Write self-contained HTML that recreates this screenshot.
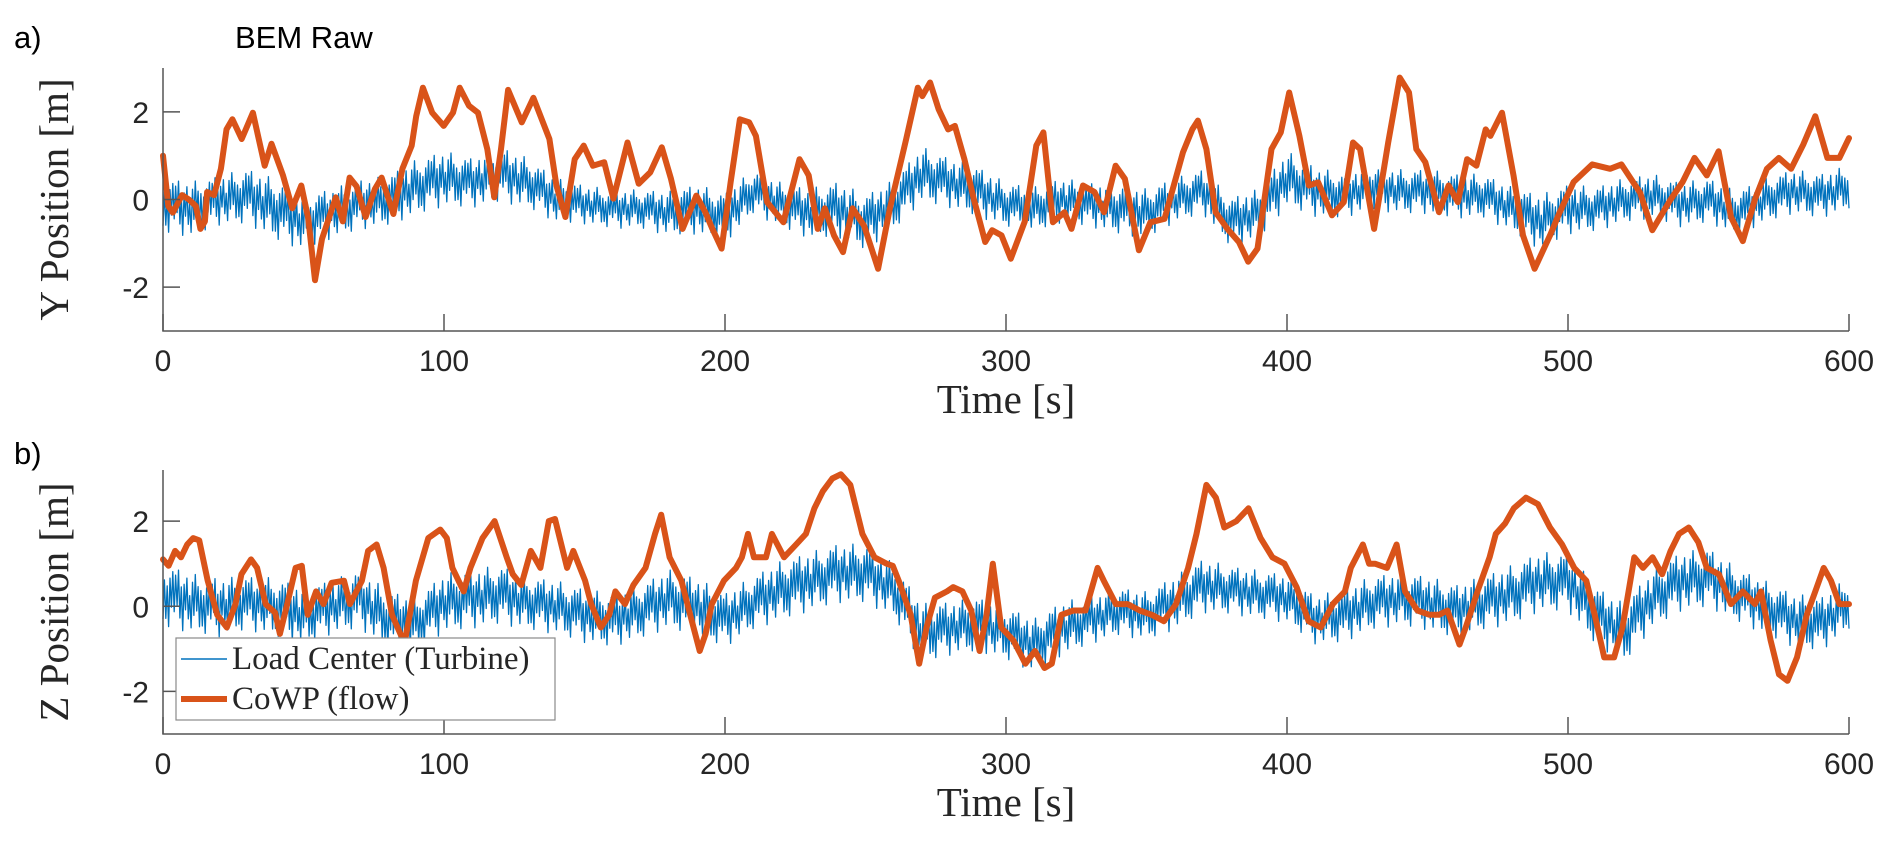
<!DOCTYPE html>
<html><head><meta charset="utf-8">
<style>
html,body{margin:0;padding:0;background:#fff;}
svg{display:block;}
.tick{font-family:"Liberation Sans",sans-serif;font-size:30px;fill:#262626;}
.lab{font-family:"Liberation Serif",serif;font-size:41px;fill:#262626;}
.leg{font-family:"Liberation Serif",serif;font-size:33px;fill:#262626;}
.ttl{font-family:"Liberation Sans",sans-serif;font-size:31px;fill:#000;}
</style></head>
<body>
<svg id="chart" width="1892" height="847" viewBox="0 0 1892 847" xmlns="http://www.w3.org/2000/svg">
<text x="14" y="48" class="ttl">a)</text>
<text x="235" y="48" class="ttl">BEM Raw</text>
<text x="14" y="464" class="ttl">b)</text>
<g id="pa"></g>
<g id="pb"></g>
<g>
<rect x="176" y="638" width="379" height="82" fill="#fff" stroke="#8a8a8a" stroke-width="1.2"/>
<line x1="181" y1="659" x2="227" y2="659" stroke="#0072BD" stroke-width="1.5"/>
<text x="232" y="669" class="leg">Load Center (Turbine)</text>
<line x1="181" y1="699" x2="227" y2="699" stroke="#D95319" stroke-width="6"/>
<text x="232" y="709" class="leg">CoWP (flow)</text>
</g>
</svg>
<script>
const xTicks=[0,100,200,300,400,500,600];
const yTicks=[-2,0,2];
const aOrT=[0,1.9,3.5,6.8,9.2,11.7,13.3,14.9,15.7,18.2,20.6,22.6,24.7,28,32,36.2,38.6,42.7,46,49.2,51.7,54.1,56.6,61.5,64,66.4,68.9,72.1,75.4,77.8,82,85.2,88.5,90.1,92.5,95.8,99.9,103.2,105.6,108.9,112.1,115.4,117.9,120.3,122.8,127.7,131.8,137.5,140,143.2,146.5,149.7,153,157,160.3,165.3,169.3,173.4,177.5,180.8,184.9,189.8,193,195.5,198.8,202,205.3,208.6,211,215,220.8,226.5,229.8,233,235.5,238.8,242,245.4,249.5,254.5,258.7,264.5,268.6,270.2,273,276,279.4,281.8,285.2,288.5,292.6,295.1,298.4,301.7,306.7,310.8,313.3,316.7,320.8,323.3,327.4,331.5,334.9,339,342.3,347.3,351.4,356.4,363,366.3,368.3,371.3,374.6,378.8,382.9,386.2,389.5,394.5,397.8,400.8,404.4,407.8,411.1,416,420.2,423.5,426,431,436,440.1,443.4,446,449.2,454.1,457.5,460.8,464.1,467.4,470.7,472.4,476.5,480.6,484,488.1,493.6,497,502,508.6,515,519,525.7,530,536.5,540.8,545,549.4,553.6,558,562.2,566.5,570.8,575,579.4,583.7,588,592.3,596.6,600];
const aOrV=[1.0,-0.15,-0.3,0.1,0,-0.15,-0.67,-0.5,0.17,0.1,0.7,1.6,1.83,1.38,1.98,0.77,1.27,0.55,-0.2,0.32,-0.44,-1.84,-0.9,0.05,-0.5,0.5,0.3,-0.4,0.24,0.5,-0.33,0.7,1.23,1.9,2.55,1.98,1.68,1.98,2.55,2.14,1.98,1.15,0.05,1.15,2.5,1.76,2.32,1.38,0.32,-0.4,0.92,1.23,0.77,0.85,0.02,1.3,0.36,0.62,1.19,0.47,-0.67,0.09,-0.29,-0.67,-1.12,0.39,1.83,1.76,1.45,-0.06,-0.52,0.92,0.55,-0.67,-0.2,-0.82,-1.2,-0.2,-0.6,-1.58,-0.2,1.38,2.55,2.36,2.67,2.06,1.6,1.68,0.92,0.02,-0.97,-0.7,-0.82,-1.35,-0.5,1.23,1.53,-0.52,-0.29,-0.67,0.32,0.17,-0.29,0.77,0.47,-1.16,-0.52,-0.44,1.08,1.6,1.8,1.15,-0.29,-0.67,-0.97,-1.42,-1.12,1.15,1.53,2.44,1.45,0.32,0.39,-0.36,-0.06,1.3,1.15,-0.67,1.3,2.78,2.44,1.15,0.85,-0.29,0.32,-0.06,0.92,0.77,1.6,1.45,1.98,0.55,-0.82,-1.58,-0.82,-0.3,0.4,0.8,0.7,0.8,0.15,-0.7,0,0.4,0.95,0.55,1.1,-0.4,-0.95,0,0.7,0.95,0.7,1.25,1.9,0.95,0.95,1.4];
const aBlT=[-0.1,-0.2,0,0.1,-0.2,-0.5,-0.3,-0.1,0,0.3,0.5,0.4,0.6,0.4,0,-0.1,-0.2,-0.2,-0.3,-0.2,-0.4,0.2,-0.1,-0.3,-0.2,-0.5,-0.1,0.6,0.4,0.2,-0.1,-0.2,0,-0.1,-0.2,-0.3,0,0.2,-0.5,-0.3,0.5,0.2,0.1,0.3,0.2,0.2,0.1,0.1,-0.2,-0.5,-0.2,-0.2,0,0.1,-0.1,0,-0.3,0,0.2,0.1,0.3];
const aBlA=[0.5,0.5,0.45,0.5,0.55,0.5,0.45,0.45,0.45,0.5,0.5,0.45,0.5,0.45,0.4,0.35,0.35,0.35,0.4,0.45,0.45,0.4,0.4,0.45,0.5,0.5,0.45,0.5,0.45,0.45,0.4,0.4,0.4,0.4,0.45,0.45,0.4,0.4,0.45,0.45,0.5,0.45,0.4,0.4,0.4,0.4,0.4,0.4,0.4,0.5,0.45,0.4,0.4,0.4,0.4,0.4,0.4,0.4,0.4,0.4,0.4];
const bOrT=[0,2,4.3,6.4,8.6,10.7,12.9,15.9,19.3,22.7,25.8,27.9,31.3,33.5,36.5,39.9,41.6,44.2,47.2,49.4,51.5,54.5,57.1,60,64.4,66.5,70.8,73,76,78.5,81.5,84.5,86,90,94.4,98.7,101,103,107,109.4,113.7,118,122.3,124.5,127.5,130.9,134.3,137.3,139.5,143.8,146,150.2,152.4,155.8,158.8,161,164.4,167.4,171.7,175.1,177.3,180.3,184.5,187.6,191,193.1,195.3,199.6,203.9,206,208.2,210.3,214.6,216.7,221,225.3,228.8,231.8,234.8,238.2,241.2,244.6,248.9,253.2,257.5,259.7,261.8,266.1,269.1,271.7,274.7,279,281.2,284.5,287.6,290.6,293.1,295.3,298.3,302.6,306.9,310.3,313.7,316.3,319.7,324,328.3,332.6,334.8,339.1,343.3,347.6,351.9,356.2,360.5,364.8,367.8,371.3,374.7,377.7,382,386.3,390.6,394.8,399.1,403.4,407.7,412,416.3,420.6,422.7,427,429.2,431.3,435.6,439,442,446.4,450.7,454.1,457.1,461.4,463.6,467.8,472.1,474.3,477.7,480.7,485,489.3,493.6,497.9,502.2,506.5,509.5,512.9,516.4,519.4,523.6,526.7,530.1,533.5,536.5,539.5,543,546.4,549.4,553.7,558,562.2,566.5,568.7,572.1,575.1,578.1,581.5,585,588,591,593.6,596.6,600];
const bOrV=[1.1,0.95,1.3,1.15,1.45,1.6,1.55,0.6,-0.2,-0.5,0.05,0.75,1.1,0.9,0.05,-0.15,-0.65,0.05,0.9,0.95,-0.2,0.35,0.05,0.55,0.6,0.05,0.6,1.3,1.45,0.9,-0.2,-0.65,-0.85,0.6,1.6,1.8,1.6,0.9,0.35,0.9,1.6,2.0,1.15,0.75,0.5,1.3,0.9,2.0,2.05,0.9,1.3,0.6,0.05,-0.5,-0.2,0.35,0.05,0.5,0.9,1.7,2.15,1.15,0.6,-0.2,-1.05,-0.65,0.05,0.6,0.9,1.15,1.7,1.15,1.15,1.7,1.15,1.45,1.7,2.3,2.7,3.0,3.1,2.85,1.7,1.15,1.0,0.95,0.6,-0.2,-1.35,-0.5,0.2,0.35,0.45,0.35,-0.1,-1.05,-0.2,1.0,-0.5,-0.8,-1.35,-1.05,-1.45,-1.35,-0.2,-0.1,-0.1,0.9,0.6,0.05,0.05,-0.1,-0.2,-0.35,0.05,0.9,1.7,2.85,2.55,1.85,2.0,2.3,1.6,1.15,1.0,0.45,-0.35,-0.5,0.05,0.35,0.9,1.45,1.0,1.0,0.9,1.45,0.35,-0.1,-0.2,-0.2,-0.1,-0.9,-0.5,0.35,1.15,1.7,1.95,2.3,2.55,2.4,1.85,1.45,0.9,0.6,-0.2,-1.2,-1.2,-0.5,1.15,0.9,1.15,0.75,1.3,1.7,1.85,1.5,0.9,0.75,0.05,0.35,0.05,0.35,-0.8,-1.6,-1.75,-1.2,-0.2,0.35,0.9,0.6,0.05,0.05];
const bBlT=[0.3,0.1,0,0.1,0,-0.2,0,0.2,-0.3,-0.4,0.1,0.2,0.3,0.1,0,-0.2,-0.3,-0.1,0.2,0,-0.3,0.1,0.4,0.6,0.8,0.8,0.4,-0.6,-0.5,-0.4,-0.6,-0.9,-0.5,-0.3,-0.1,-0.2,0.1,0.5,0.4,0.3,0.2,-0.3,-0.2,0.1,0.2,0.1,-0.1,0.1,0.3,0.6,0.6,-0.2,-0.6,0.2,0.6,0.7,0.3,0,-0.3,-0.4,0.1];
const bBlA=[0.6,0.55,0.55,0.5,0.55,0.55,0.5,0.55,0.55,0.5,0.55,0.55,0.55,0.5,0.5,0.5,0.5,0.5,0.55,0.55,0.5,0.5,0.55,0.55,0.55,0.55,0.5,0.55,0.5,0.5,0.5,0.5,0.5,0.45,0.45,0.45,0.5,0.5,0.45,0.45,0.45,0.45,0.5,0.5,0.5,0.5,0.5,0.5,0.55,0.55,0.55,0.55,0.55,0.55,0.55,0.55,0.5,0.5,0.5,0.5,0.5];
const jitter=[1,0.55,0.95,0.35,1.25,0.7,0.45,1.0,0.6,0.9,0.3,1.15,0.8,0.5,1.3,0.65,0.4,0.95,0.75,0.25,1.1,0.85,0.55,1.2,0.35,0.7];

const NS="http://www.w3.org/2000/svg";
function mk(tag,attrs,parent){const e=document.createElementNS(NS,tag);for(const k in attrs)e.setAttribute(k,attrs[k]);parent.appendChild(e);return e;}
function panel(g,top,bot,ymin,ymax,orT,orV,blT,blA,ylabel,pid){
  const L=163,R=1849;
  const sx=t=>L+(t/600)*(R-L);
  const sy=v=>bot-(v-ymin)/(ymax-ymin)*(bot-top);
  let pts=[];let k=0;
  for(let t=0;t<=600;t+=0.5,k++){
    const i=Math.min(59,Math.floor(t/10)),f=t/10-i;
    const m=blT[i]*(1-f)+blT[i+1]*f, a=blA[i]*(1-f)+blA[i+1]*f;
    const s=(k%2?1:-1)*a*jitter[k%jitter.length];
    pts.push(sx(t).toFixed(1)+","+sy(m+s).toFixed(1));
  }
  const bl=mk("polyline",{points:pts.join(" "),fill:"none",stroke:"#0072BD","stroke-width":1.3,"stroke-linejoin":"round"},g);
  
  
  const op=orT.map((t,i)=>sx(t).toFixed(1)+","+sy(orV[i]).toFixed(1)).join(" ");
  const ol=mk("polyline",{points:op,fill:"none",stroke:"#D95319","stroke-width":6,"stroke-linejoin":"round","stroke-linecap":"round"},g);
  
  
  const ax=mk("path",{d:`M${L},${top} L${L},${bot} L${R},${bot}`,fill:"none",stroke:"#555","stroke-width":1.5},g);
  
  
  xTicks.forEach(t=>{
    const tk=mk("line",{x1:sx(t),x2:sx(t),y1:bot,y2:bot-17,stroke:"#555","stroke-width":1.5},g);
    
    
    const tx=mk("text",{x:sx(t),y:bot+40,"text-anchor":"middle",class:"tick"},g);
    tx.textContent=t;
    
    
  });
  yTicks.forEach(v=>{
    const tk=mk("line",{x1:L,x2:L+17,y1:sy(v),y2:sy(v),stroke:"#555","stroke-width":1.5},g);
    
    
    const tx=mk("text",{x:L-14,y:sy(v)+11,"text-anchor":"end",class:"tick"},g);
    tx.textContent=v;
    
    
  });
  const xl=mk("text",{x:(L+R)/2,y:bot+82,"text-anchor":"middle",class:"lab"},g);
  xl.textContent="Time [s]";
  
  
  const cy=(top+bot)/2;
  const yl=mk("text",{x:0,y:0,"text-anchor":"middle",class:"lab",transform:`translate(68,${cy}) rotate(-90)`},g);
  yl.textContent=ylabel;
  
  
}
panel(document.getElementById("pa"),68,331,-3,3,aOrT,aOrV,aBlT,aBlA,"Y Position [m]","panel-a");
panel(document.getElementById("pb"),470,734,-3,3.2,bOrT,bOrV,bBlT,bBlA,"Z Position [m]","panel-b");
</script>
</body></html>
